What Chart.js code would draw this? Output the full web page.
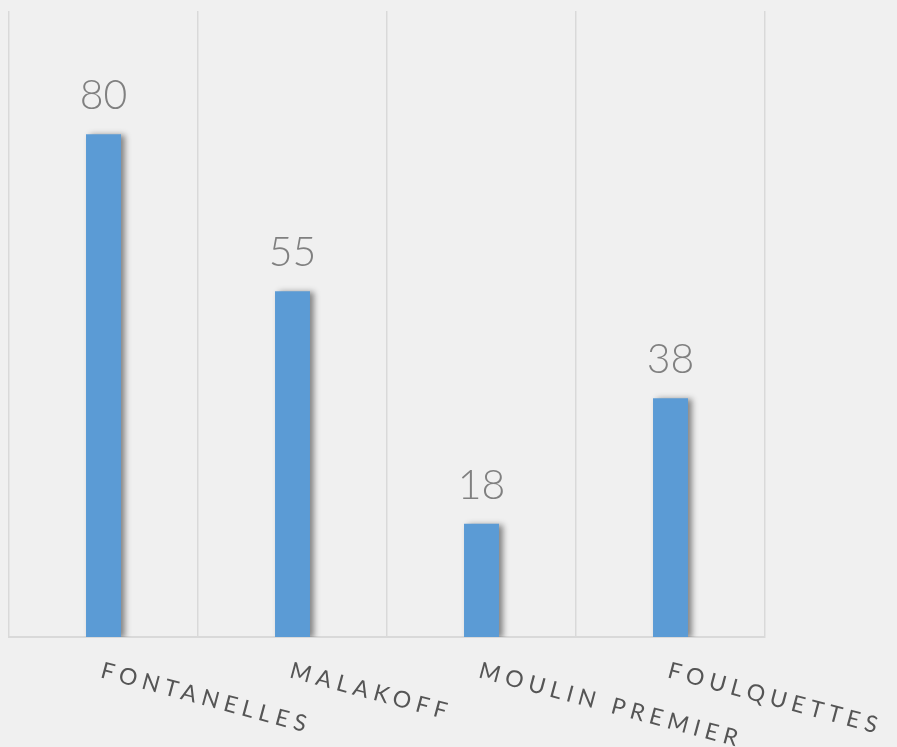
<!DOCTYPE html>
<html>
<head>
<meta charset="utf-8">
<script src="https://cdn.jsdelivr.net/npm/chart.js@4.4.1/dist/chart.umd.min.js"></script>
<style>
  html, body { margin: 0; padding: 0; background: #f0f0f0; }
  #wrap { width: 897px; height: 747px; }
</style>
</head>
<body>
<div id="wrap"><canvas id="c" width="897" height="747"></canvas></div>
<script>
const categories = ['FONTANELLES', 'MALAKOFF', 'MOULIN PREMIER', 'FOULQUETTES'];
const values = [80, 55, 18, 38];

// value labels above the bars
const valueLabels = {
  id: 'valueLabels',
  afterDatasetsDraw(chart) {
    const ctx = chart.ctx;
    const meta = chart.getDatasetMeta(0);
    ctx.save();
    ctx.fillStyle = '#808080';
    ctx.font = '300 41px Lato, "Open Sans", sans-serif';
    ctx.textAlign = 'center';
    ctx.textBaseline = 'bottom';
    meta.data.forEach((bar, i) => {
      ctx.fillText(String(values[i]), bar.x, bar.y - 18);
    });
    ctx.restore();
  }
};

// rotated, letter-spaced category labels starting at each tick
const categoryLabels = {
  id: 'categoryLabels',
  afterDraw(chart) {
    const ctx = chart.ctx;
    const xs = chart.scales.x;
    const y0 = chart.chartArea.bottom + 22;
    ctx.save();
    ctx.fillStyle = '#555555';
    ctx.font = '400 23px Lato, "Open Sans", sans-serif';
    ctx.letterSpacing = '5.5px';
    ctx.textAlign = 'left';
    ctx.textBaseline = 'top';
    categories.forEach((c, i) => {
      const x = xs.getPixelForTick(i);
      ctx.save();
      ctx.translate(x + 1, y0);
      ctx.rotate(15 * Math.PI / 180);
      ctx.fillText(c, 0, 0);
      ctx.restore();
    });
    ctx.restore();
  }
};

// soft shadow on the right of the bars
const barShadow = {
  id: 'barShadow',
  beforeDatasetDraw(chart) {
    const ctx = chart.ctx;
    ctx.save();
    ctx.shadowColor = 'rgba(0,0,0,0.45)';
    ctx.shadowBlur = 6;
    ctx.shadowOffsetX = 4;
    ctx.shadowOffsetY = 1;
  },
  afterDatasetDraw(chart) {
    chart.ctx.restore();
  }
};

new Chart(document.getElementById('c'), {
  type: 'bar',
  data: {
    labels: categories,
    datasets: [{
      data: values,
      backgroundColor: '#5b9bd5',
      borderWidth: 0,
      barPercentage: 0.37,
      categoryPercentage: 0.5
    }]
  },
  options: {
    responsive: false,
    animation: false,
    layout: { padding: { left: 9, top: 11, right: 132, bottom: 110 } },
    plugins: { legend: { display: false }, tooltip: { enabled: false } },
    scales: {
      x: {
        offset: true,
        ticks: { display: false },
        grid: { display: true, offset: true, color: '#d9d9d9', lineWidth: 1.5, drawTicks: false },
        border: { display: true, color: '#d9d9d9', width: 2 }
      },
      y: {
        display: false,
        min: 0,
        max: 99.6
      }
    }
  },
  plugins: [barShadow, valueLabels, categoryLabels]
});
</script>
</body>
</html>
